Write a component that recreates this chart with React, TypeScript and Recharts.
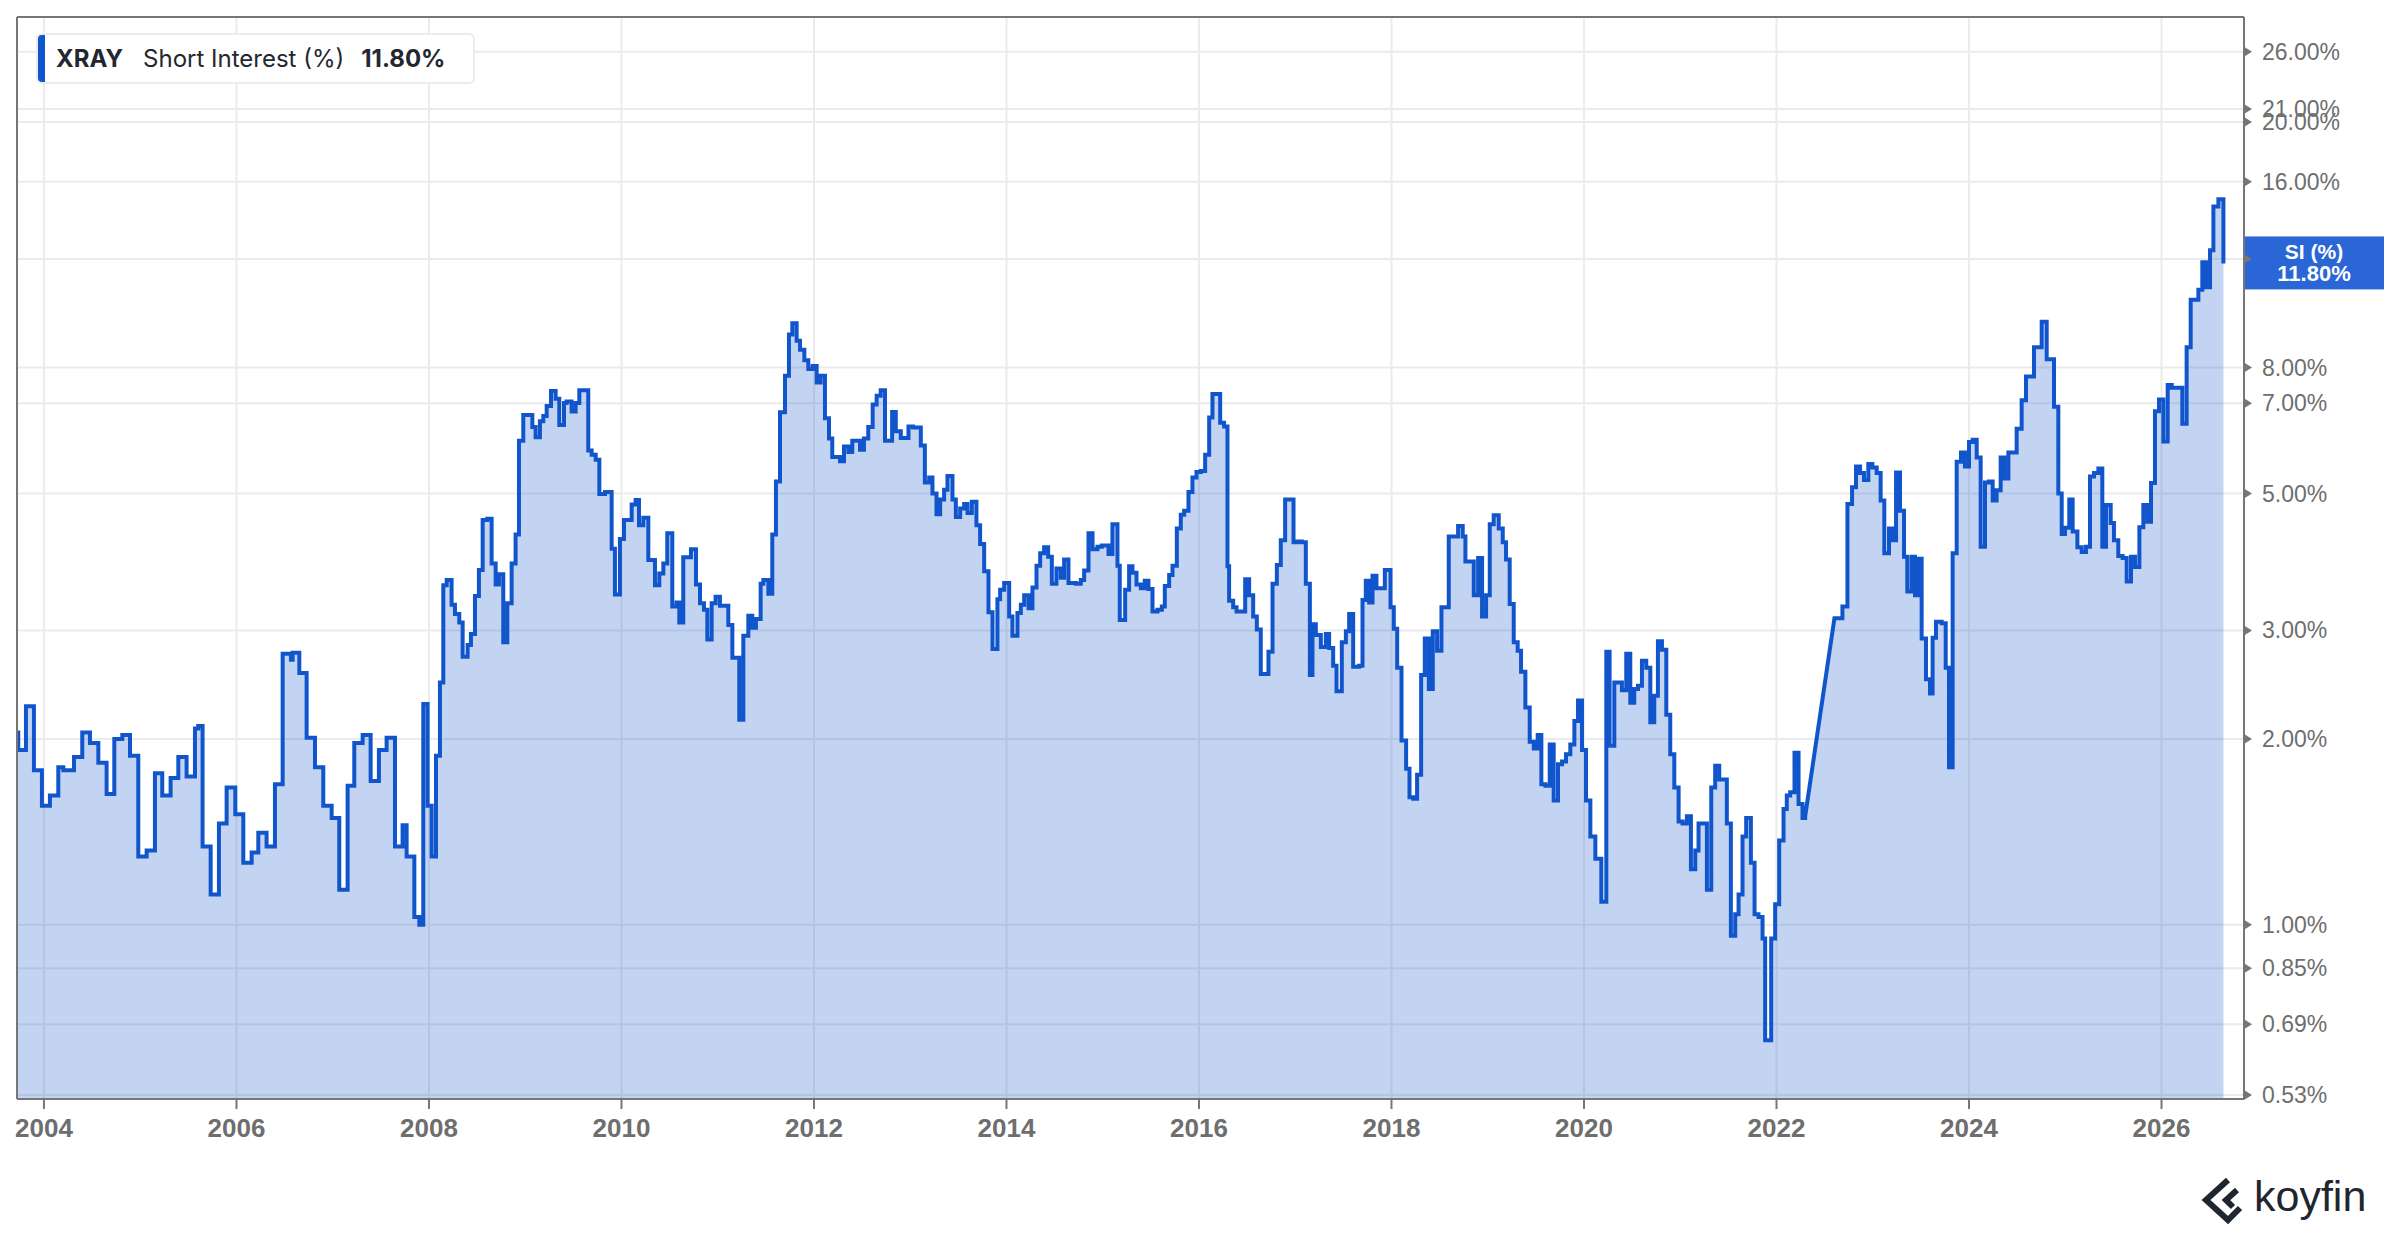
import React from "react";
import { ComposedChart, Area, XAxis, YAxis, CartesianGrid, ReferenceLine } from "recharts";

// XRAY short interest (% of float)
const YEARS = [
  2003.72, 2003.733, 2003.813, 2003.896, 2003.979, 2004.062, 2004.149, 2004.201, 2004.312, 2004.398,
  2004.478, 2004.565, 2004.651, 2004.731, 2004.814, 2004.894, 2004.98, 2005.067, 2005.153, 2005.229,
  2005.316, 2005.396, 2005.482, 2005.569, 2005.603, 2005.648, 2005.732, 2005.818, 2005.898, 2005.988,
  2006.071, 2006.158, 2006.227, 2006.313, 2006.4, 2006.48, 2006.566, 2006.584, 2006.653, 2006.729,
  2006.816, 2006.902, 2006.989, 2007.068, 2007.155, 2007.224, 2007.311, 2007.394, 2007.48, 2007.56,
  2007.647, 2007.726, 2007.768, 2007.848, 2007.9, 2007.941, 2007.986, 2008.028, 2008.073, 2008.114,
  2008.149, 2008.184, 2008.235, 2008.27, 2008.315, 2008.35, 2008.402, 2008.436, 2008.478, 2008.519,
  2008.558, 2008.606, 2008.651, 2008.693, 2008.727, 2008.772, 2008.814, 2008.859, 2008.9, 2008.935,
  2008.98, 2009.074, 2009.108, 2009.153, 2009.188, 2009.223, 2009.268, 2009.316, 2009.354, 2009.403,
  2009.43, 2009.482, 2009.524, 2009.562, 2009.655, 2009.69, 2009.732, 2009.77, 2009.829, 2009.898,
  2009.932, 2009.984, 2010.026, 2010.106, 2010.147, 2010.182, 2010.227, 2010.279, 2010.348, 2010.393,
  2010.435, 2010.476, 2010.528, 2010.573, 2010.601, 2010.642, 2010.722, 2010.774, 2010.816, 2010.857,
  2010.892, 2010.937, 2010.978, 2011.023, 2011.11, 2011.152, 2011.224, 2011.266, 2011.318, 2011.359,
  2011.397, 2011.446, 2011.474, 2011.526, 2011.567, 2011.605, 2011.647, 2011.699, 2011.74, 2011.775,
  2011.82, 2011.855, 2011.9, 2011.941, 2011.986, 2012.028, 2012.069, 2012.114, 2012.156, 2012.19,
  2012.27, 2012.312, 2012.357, 2012.398, 2012.478, 2012.519, 2012.564, 2012.61, 2012.651, 2012.693,
  2012.738, 2012.812, 2012.85, 2012.902, 2012.982, 2013.03, 2013.11, 2013.152, 2013.197, 2013.231,
  2013.273, 2013.311, 2013.352, 2013.387, 2013.439, 2013.474, 2013.519, 2013.56, 2013.595, 2013.64,
  2013.688, 2013.726, 2013.768, 2013.813, 2013.855, 2013.906, 2013.934, 2013.976, 2014.028, 2014.062,
  2014.114, 2014.149, 2014.184, 2014.229, 2014.27, 2014.312, 2014.35, 2014.391, 2014.433, 2014.471,
  2014.519, 2014.564, 2014.599, 2014.644, 2014.72, 2014.772, 2014.807, 2014.852, 2014.894, 2014.945,
  2014.99, 2015.06, 2015.101, 2015.153, 2015.177, 2015.233, 2015.274, 2015.309, 2015.351, 2015.396,
  2015.437, 2015.475, 2015.517, 2015.569, 2015.614, 2015.645, 2015.69, 2015.725, 2015.77, 2015.811,
  2015.846, 2015.891, 2015.932, 2015.974, 2016.019, 2016.064, 2016.106, 2016.14, 2016.22, 2016.261,
  2016.296, 2016.313, 2016.355, 2016.39, 2016.48, 2016.521, 2016.563, 2016.601, 2016.642, 2016.722,
  2016.764, 2016.809, 2016.85, 2016.895, 2016.982, 2017.023, 2017.068, 2017.11, 2017.152, 2017.179,
  2017.214, 2017.266, 2017.318, 2017.352, 2017.394, 2017.429, 2017.484, 2017.526, 2017.56, 2017.602,
  2017.664, 2017.699, 2017.733, 2017.768, 2017.803, 2017.844, 2017.931, 2017.99, 2018.024, 2018.059,
  2018.104, 2018.152, 2018.187, 2018.225, 2018.266, 2018.308, 2018.346, 2018.388, 2018.429, 2018.474,
  2018.519, 2018.595, 2018.692, 2018.74, 2018.768, 2018.855, 2018.9, 2018.941, 2018.983, 2019.021,
  2019.062, 2019.114, 2019.156, 2019.19, 2019.228, 2019.27, 2019.311, 2019.346, 2019.391, 2019.436,
  2019.478, 2019.519, 2019.557, 2019.599, 2019.644, 2019.685, 2019.73, 2019.772, 2019.813, 2019.858,
  2019.9, 2019.938, 2019.979, 2020.021, 2020.066, 2020.118, 2020.18, 2020.232, 2020.266, 2020.315,
  2020.394, 2020.439, 2020.481, 2020.522, 2020.561, 2020.602, 2020.647, 2020.689, 2020.73, 2020.768,
  2020.81, 2020.855, 2020.896, 2020.938, 2020.983, 2021.024, 2021.069, 2021.111, 2021.156, 2021.19,
  2021.235, 2021.277, 2021.322, 2021.363, 2021.405, 2021.484, 2021.526, 2021.571, 2021.606, 2021.647,
  2021.685, 2021.734, 2021.772, 2021.813, 2021.855, 2021.882, 2021.945, 2021.986, 2022.028, 2022.073,
  2022.107, 2022.142, 2022.187, 2022.229, 2022.27, 2022.298, 2022.602, 2022.685, 2022.737, 2022.785,
  2022.826, 2022.868, 2022.909, 2022.954, 2022.996, 2023.041, 2023.082, 2023.12, 2023.169, 2023.207,
  2023.242, 2023.283, 2023.325, 2023.359, 2023.404, 2023.439, 2023.474, 2023.508, 2023.553, 2023.595,
  2023.622, 2023.657, 2023.716, 2023.758, 2023.792, 2023.83, 2023.872, 2023.917, 2023.958, 2024.0,
  2024.038, 2024.08, 2024.121, 2024.166, 2024.208, 2024.246, 2024.287, 2024.329, 2024.367, 2024.409,
  2024.495, 2024.547, 2024.592, 2024.675, 2024.755, 2024.807, 2024.883, 2024.928, 2024.963, 2024.997,
  2025.042, 2025.077, 2025.126, 2025.171, 2025.215, 2025.257, 2025.299, 2025.344, 2025.385, 2025.423,
  2025.472, 2025.506, 2025.551, 2025.596, 2025.638, 2025.683, 2025.725, 2025.77, 2025.811, 2025.853,
  2025.891, 2025.932, 2025.974, 2026.019, 2026.064, 2026.106, 2026.216, 2026.261, 2026.303, 2026.383,
  2026.424, 2026.462, 2026.504, 2026.539, 2026.591, 2026.643,
];

const SI_PCT = [
  2.05, 1.92, 2.26, 1.78, 1.56, 1.62, 1.8, 1.78, 1.87, 2.05,
  1.97, 1.83, 1.63, 2.0, 2.03, 1.88, 1.29, 1.32, 1.76, 1.62,
  1.73, 1.87, 1.74, 2.08, 2.1, 1.34, 1.12, 1.46, 1.67, 1.51,
  1.26, 1.31, 1.41, 1.34, 1.69, 2.75, 2.69, 2.76, 2.56, 2.01,
  1.8, 1.56, 1.49, 1.14, 1.68, 1.97, 2.03, 1.71, 1.92, 2.01,
  1.34, 1.45, 1.29, 1.03, 1.0, 2.28, 1.56, 1.29, 1.88, 2.47,
  3.55, 3.62, 3.3, 3.19, 3.09, 2.72, 2.84, 2.96, 3.41, 3.76,
  4.53, 4.55, 3.85, 3.56, 3.7, 2.87, 3.32, 3.85, 4.29, 6.09,
  6.7, 6.41, 6.17, 6.55, 6.68, 6.93, 7.33, 7.12, 6.46, 7.01,
  7.05, 6.79, 7.01, 7.35, 5.87, 5.78, 5.67, 4.99, 5.03, 4.07,
  3.43, 4.22, 4.53, 4.8, 4.88, 4.44, 4.57, 3.9, 3.55, 3.71,
  3.85, 4.31, 3.28, 3.33, 3.09, 3.94, 4.06, 3.56, 3.32, 3.24,
  2.9, 3.32, 3.4, 3.29, 3.06, 2.71, 2.15, 2.94, 3.17, 3.03,
  3.13, 3.57, 3.62, 3.44, 4.29, 5.23, 6.77, 7.76, 9.05, 9.44,
  8.84, 8.55, 8.22, 7.96, 8.05, 7.57, 7.76, 6.62, 6.14, 5.73,
  5.64, 5.96, 5.84, 6.09, 5.89, 6.14, 6.41, 6.97, 7.2, 7.35,
  6.09, 6.78, 6.31, 6.15, 6.42, 6.4, 5.98, 5.21, 5.31, 5.0,
  4.63, 4.89, 5.07, 5.34, 4.89, 4.58, 4.73, 4.81, 4.65, 4.85,
  4.44, 4.14, 3.74, 3.21, 2.8, 3.37, 3.49, 3.58, 3.16, 2.94,
  3.2, 3.3, 3.42, 3.26, 3.52, 3.82, 4.0, 4.09, 3.95, 3.57,
  3.78, 3.65, 3.91, 3.58, 3.57, 3.62, 3.75, 4.31, 4.06, 4.1,
  4.12, 3.99, 4.46, 3.82, 3.12, 3.49, 3.81, 3.72, 3.56, 3.51,
  3.61, 3.5, 3.22, 3.24, 3.28, 3.54, 3.69, 3.82, 4.39, 4.62,
  4.69, 5.03, 5.31, 5.42, 5.44, 5.78, 6.64, 7.25, 6.51, 6.42,
  3.81, 3.35, 3.27, 3.22, 3.63, 3.42, 3.16, 3.01, 2.55, 2.77,
  3.57, 3.83, 4.2, 4.89, 4.17, 4.18, 4.17, 3.57, 2.54, 3.07,
  2.95, 2.82, 2.96, 2.81, 2.63, 2.39, 2.87, 2.99, 3.19, 2.62,
  2.63, 3.36, 3.61, 3.33, 3.68, 3.51, 3.76, 3.27, 3.02, 2.61,
  1.99, 1.79, 1.61, 1.6, 1.75, 2.54, 2.91, 2.41, 2.99, 2.78,
  3.27, 4.26, 4.43, 4.26, 3.88, 3.42, 3.93, 3.16, 3.42, 4.46,
  4.61, 4.39, 4.17, 3.91, 3.31, 2.87, 2.78, 2.57, 2.25, 1.98,
  1.93, 2.03, 1.69, 1.68, 1.96, 1.59, 1.82, 1.84, 1.89, 1.96,
  2.14, 2.31, 1.92, 1.59, 1.39, 1.28, 1.09, 2.77, 1.95, 2.47,
  2.4, 2.75, 2.29, 2.41, 2.44, 2.68, 2.61, 2.13, 2.35, 2.88,
  2.79, 2.19, 1.89, 1.67, 1.47, 1.46, 1.5, 1.23, 1.32, 1.46,
  1.46, 1.14, 1.67, 1.81, 1.72, 1.46, 0.96, 1.04, 1.12, 1.39,
  1.49, 1.26, 1.04, 1.03, 0.95, 0.65, 0.95, 1.08, 1.37, 1.54,
  1.62, 1.64, 1.9, 1.57, 1.49, 1.5, 3.14, 3.28, 4.81, 5.12,
  5.53, 5.4, 5.26, 5.58, 5.51, 5.4, 4.87, 4.0, 4.39, 4.2,
  5.41, 4.69, 3.95, 3.47, 3.95, 3.42, 3.92, 2.91, 2.5, 2.37,
  2.92, 3.1, 3.08, 2.61, 1.8, 4.0, 5.63, 5.83, 5.53, 6.06,
  6.11, 5.72, 4.1, 5.21, 5.23, 4.87, 5.06, 5.72, 5.29, 5.83,
  6.37, 7.08, 7.74, 8.63, 9.49, 8.25, 6.91, 5.0, 4.3, 4.4,
  4.89, 4.34, 4.09, 4.02, 4.1, 5.33, 5.4, 5.49, 4.1, 4.79,
  4.48, 4.2, 3.96, 3.93, 3.6, 3.95, 3.8, 4.41, 4.79, 4.5,
  5.2, 6.8, 7.1, 6.07, 7.5, 7.42, 6.49, 8.63, 10.3, 10.7,
  11.85, 10.8, 12.4, 14.6, 15.0, 11.8,
];

const X_TICKS = [2004, 2006, 2008, 2010, 2012, 2014, 2016, 2018, 2020, 2022, 2024, 2026];
const Y_TICKS = [0.53, 0.69, 0.85, 1, 2, 3, 5, 7, 8, 12, 16, 20, 21, 26];
const X_DOMAIN = [2003.72, 2026.857];
const Y_DOMAIN = [0.522, 29.6];
const TICKER = "XRAY";
const SERIES_NAME = "Short Interest (%)";
const LAST_SI = SI_PCT[SI_PCT.length - 1];

const data = YEARS.map((year, i) => ({ year, si: SI_PCT[i] }));

const BLUE = "#1155cc";
const FRAME = "#767676";
const TICK_TEXT = "#6e6e6e";
const SANS = "'Liberation Sans', Arial, sans-serif";

// step-after, but a long gap between reports is bridged with a straight line like koyfin does
const GAP_PX = 20;
function gapStep(context: any) {
  let line = NaN;
  let point = 0;
  let px = NaN;
  let py = NaN;
  return {
    areaStart() {
      line = 0;
    },
    areaEnd() {
      line = NaN;
    },
    lineStart() {
      px = py = NaN;
      point = 0;
    },
    lineEnd() {
      if (line || (line !== 0 && point === 1)) context.closePath();
      if (line >= 0) line = 1 - line;
    },
    point(x: number, y: number) {
      x = +x;
      y = +y;
      if (point === 0) {
        point = 1;
        if (line) context.lineTo(x, y);
        else context.moveTo(x, y);
      } else {
        point = 2;
        if (Math.abs(x - px) > GAP_PX) {
          context.lineTo(x, y);
        } else {
          context.lineTo(x, py);
          context.lineTo(x, y);
        }
      }
      px = x;
      py = y;
    },
  };
}

const XTick = (props: any) => {
  const { x, y, payload } = props;
  return (
    <g>
      <line x1={x} x2={x} y1={y} y2={y + 10} stroke={FRAME} strokeWidth={2} />
      <text x={x} y={y + 38} textAnchor="middle" fill={TICK_TEXT} fontSize={26} fontWeight={700} fontFamily={SANS}>
        {payload.value}
      </text>
    </g>
  );
};

const YTick = (props: any) => {
  const { x, y, payload } = props;
  const v = payload.value as number;
  return (
    <g>
      <path d={`M${x},${y - 5} L${x + 8},${y} L${x},${y + 5} Z`} fill={FRAME} />
      {v !== 12 && (
        <text x={x + 18} y={y + 8} fill={TICK_TEXT} fontSize={23} fontFamily={SANS}>
          {v.toFixed(2)}%
        </text>
      )}
    </g>
  );
};

const SiBadge = (props: any) => {
  const vb = props.viewBox || {};
  const left = (vb.x ?? 0) + (vb.width ?? 0);
  const cy = vb.y ?? 0;
  return (
    <g>
      <rect x={left} y={cy - 27} width={140} height={53} fill="#2b66d6" />
      <text x={left + 70} y={cy - 4} textAnchor="middle" fill="#fff" fontSize={21} fontWeight={700} fontFamily={SANS}>
        SI (%)
      </text>
      <text x={left + 70} y={cy + 18} textAnchor="middle" fill="#fff" fontSize={22} fontWeight={700} fontFamily={SANS}>
        {LAST_SI.toFixed(2)}%
      </text>
    </g>
  );
};

function Legend() {
  return (
    <div
      style={{
        position: "absolute",
        left: 36,
        top: 33,
        width: 439,
        height: 51,
        boxSizing: "border-box",
        background: "#fff",
        border: "2px solid #ececec",
        borderRadius: 6,
        display: "flex",
        alignItems: "center",
        fontFamily: "Inter, sans-serif",
        fontSize: 24,
        color: "#23272f",
        overflow: "hidden",
        whiteSpace: "nowrap",
      }}
    >
      <div style={{ position: "absolute", left: 0, top: 0, bottom: 0, width: 7, background: BLUE }} />
      <span style={{ marginLeft: 18, fontWeight: 700 }}>{TICKER}</span>
      <span style={{ marginLeft: 20 }}>{SERIES_NAME}</span>
      <span style={{ marginLeft: 17, fontWeight: 700 }}>{LAST_SI.toFixed(2)}%</span>
    </div>
  );
}

function KoyfinMark() {
  return (
    <svg style={{ position: "absolute", left: 2190, top: 1170 }} width={200} height={60}>
      <g transform="translate(12,7)" fill="none" stroke="#1f2630" strokeWidth={6} strokeLinejoin="miter">
        <path d="M26 3 L4 23 L26 43 L38 31" />
        <path d="M35 13 L24 23 L31 30" />
      </g>
      <text x={64} y={41} fill="#1f2630" fontSize={43} fontFamily={SANS}>
        koyfin
      </text>
    </svg>
  );
}

export default function App() {
  return (
    <div style={{ position: "absolute", left: 0, top: 0, width: 2400, height: 1240, background: "#fff" }}>
      <ComposedChart
        width={2400}
        height={1240}
        data={data}
        margin={{ top: 17, right: 16, bottom: 101, left: 17 }}
        style={{ fontFamily: SANS }}
      >
        <CartesianGrid stroke="#ebebeb" strokeWidth={2} />
        <XAxis
          dataKey="year"
          type="number"
          domain={X_DOMAIN}
          ticks={X_TICKS}
          interval={0}
          allowDataOverflow
          height={40}
          tickSize={0}
          tickMargin={0}
          axisLine={{ stroke: FRAME, strokeWidth: 2 }}
          tick={<XTick />}
        />
        <YAxis
          orientation="right"
          type="number"
          scale="log"
          domain={Y_DOMAIN}
          ticks={Y_TICKS}
          interval={0}
          allowDataOverflow
          width={140}
          tickSize={0}
          tickMargin={0}
          axisLine={{ stroke: FRAME, strokeWidth: 2 }}
          tick={<YTick />}
        />
        <Area
          dataKey="si"
          type={gapStep as any}
          stroke={BLUE}
          strokeWidth={4}
          fill={BLUE}
          fillOpacity={0.25}
          baseValue={Y_DOMAIN[0]}
          dot={false}
          activeDot={false}
          isAnimationActive={false}
        />
        <ReferenceLine x={X_DOMAIN[0]} stroke={FRAME} strokeWidth={2} />
        <ReferenceLine y={Y_DOMAIN[1]} stroke={FRAME} strokeWidth={2} />
        <ReferenceLine y={LAST_SI} stroke="none" label={<SiBadge />} />
      </ComposedChart>
      <Legend />
      <KoyfinMark />
    </div>
  );
}
